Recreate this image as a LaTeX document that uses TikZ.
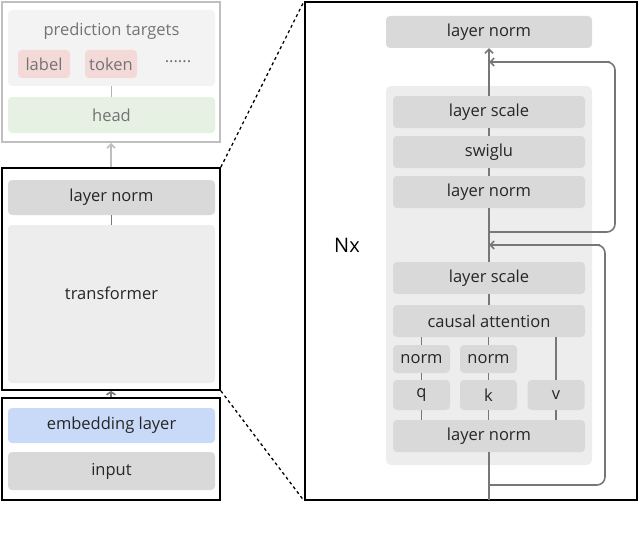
\documentclass[tikz,border=0pt]{standalone}
\usepackage{fontspec}
\setmainfont{Open Sans}
\usetikzlibrary{arrows.meta}
\definecolor{boxg}{HTML}{D9D9D9}
\definecolor{grpg}{HTML}{EDEDED}
\definecolor{lg}{HTML}{F3F3F3}
\definecolor{pinkb}{HTML}{F4D9D9}
\definecolor{greenb}{HTML}{E6F0E3}
\definecolor{blueb}{HTML}{C9DAF8}
\definecolor{ln}{HTML}{777777}
\begin{document}
\begin{tikzpicture}[x=1pt,y=-1pt,
  blk/.style={fill=boxg,rounded corners=4pt,font=\fontsize{16.5}{18}\selectfont,text=black!85,inner sep=0pt},
  fad/.style={rounded corners=4pt,font=\fontsize{16.5}{18}\selectfont,text=black!55,inner sep=0pt},
  tick/.style={draw=ln,line width=1.3pt},
  trunk/.style={draw=ln,line width=1.6pt},
  arr/.style={trunk,-{Straight Barb[length=4pt,width=8pt]}},
  frame/.style={draw=black,line width=1.8pt}]
\useasboundingbox (0,0) rectangle (640,535);
% left top faded box
\draw[draw=black!25,line width=1.5pt,fill=white] (2,2) rectangle (220,142);
\path[fill=lg,rounded corners=4pt] (8,10) rectangle (215,86);
\node[fad] (pt) at (111.5,31) {prediction targets};
\node[fad,fill=pinkb,minimum width=52pt,minimum height=28pt] (lab) at (44,64) {label};
\node[fad,fill=pinkb,minimum width=52pt,minimum height=28pt] (tok) at (111,64) {token};
\node[fad] (dots) at (178,62) {......};
\node[fad,fill=greenb,minimum width=207pt,minimum height=36pt] (head) at (111.5,115) {head};
\coordinate (ptb) at (111.5,86);
\draw[draw=black!30,line width=1.3pt] (ptb) -- (head.north);
% transformer box
\node[frame,minimum width=218pt,minimum height=222pt,inner sep=0pt] (tbox) at (111,279) {};
\node[blk,minimum width=207pt,minimum height=35pt] (tln) at (111.5,197.5) {layer norm};
\node[fill=grpg,rounded corners=4pt,minimum width=207pt,minimum height=158pt] (tr) at (111.5,304) {};
\node[font=\fontsize{16.5}{18}\selectfont,text=black!85] (trl) at (111.5,293) {transformer};
\draw[tick] (tln.south) -- (tr.north);
\draw[draw=black!25,line width=1.6pt,-{Straight Barb[length=4pt,width=8pt]}] (tbox.north) -- (111,143);
% bottom box
\node[frame,minimum width=218pt,minimum height=102pt,inner sep=0pt] (bbox) at (111,449) {};
\node[blk,fill=blueb,minimum width=207pt,minimum height=35pt] (emb) at (111.5,425.5) {embedding layer};
\node[blk,minimum width=207pt,minimum height=38pt] (inp) at (111.5,471) {input};
\draw[trunk,-{Straight Barb[length=3pt,width=9pt]}] (bbox.north) -- (tbox.south);
% right
\node[frame,minimum width=332pt,minimum height=498pt,inner sep=0pt] (rbox) at (471,251) {};
\draw[dashed,line width=1.3pt] (tbox.north east) -- (rbox.north west);
\draw[dashed,line width=1.3pt] (tbox.south east) -- (rbox.south west);
\node[blk,minimum width=206pt,minimum height=32pt] (rln) at (489,32) {layer norm};
\path[fill=grpg,rounded corners=5pt] (386,86) rectangle (592,465);
\node[font=\fontsize{20}{22}\selectfont] (nx) at (347,245) {Nx};
\node[blk,minimum width=192pt,minimum height=32pt] (ls1) at (489,112) {layer scale};
\node[blk,minimum width=192pt,minimum height=32pt] (sw) at (489,152) {swiglu};
\node[blk,minimum width=192pt,minimum height=32pt] (ln1) at (489,192) {layer norm};
\node[blk,minimum width=192pt,minimum height=32pt] (ls2) at (489,278) {layer scale};
\node[blk,minimum width=192pt,minimum height=32pt] (ca) at (489,321) {causal attention};
\node[blk,minimum width=57pt,minimum height=28pt] (n1) at (421.5,359) {norm};
\node[blk,minimum width=57pt,minimum height=28pt] (n2) at (488.5,359) {norm};
\node[blk,minimum width=57pt,minimum height=30pt] (q) at (421.5,395) {q};
\node[blk,minimum width=57pt,minimum height=30pt] (k) at (488.5,395) {k};
\node[blk,minimum width=57pt,minimum height=30pt] (v) at (556,395) {v};
\node[blk,minimum width=192pt,minimum height=32pt] (ln2) at (489,436) {layer norm};
% ticks
\draw[tick] (ls1.south) -- (sw.north);
\draw[tick] (sw.south) -- (ln1.north);
\draw[tick] (ls2.south) -- (ca.north);
\draw[tick] (n1.north) -- (n1.north |- ca.south);
\draw[tick] (n2.north) -- (n2.north |- ca.south);
\draw[tick] (v.north) -- (v.north |- ca.south);
\draw[tick] (n1.south) -- (q.north);
\draw[tick] (n2.south) -- (k.north);
\draw[tick] (q.south) -- (q.south |- ln2.north);
\draw[tick] (k.south) -- (k.south |- ln2.north);
\draw[tick] (v.south) -- (v.south |- ln2.north);
% trunk
\coordinate (bot) at (489,500);
\coordinate (j1) at (489,485);
\coordinate (j2) at (489,245);
\coordinate (j3) at (489,232);
\coordinate (j4) at (489,62);
\draw[trunk] (bot) -- (ln2.south);
\draw[trunk] (ls2.north) -- (ln1.south);
\draw[arr] (ls1.north) -- (rln.south);
\draw[trunk,rounded corners=8pt] (j1) -- (605,485) -- (605,245) -- (j2);
\draw[arr] (600,245) -- (j2);
\draw[trunk,rounded corners=8pt] (j3) -- (615,232) -- (615,62) -- (j4);
\draw[arr] (610,62) -- (j4);
\end{tikzpicture}
\end{document}
